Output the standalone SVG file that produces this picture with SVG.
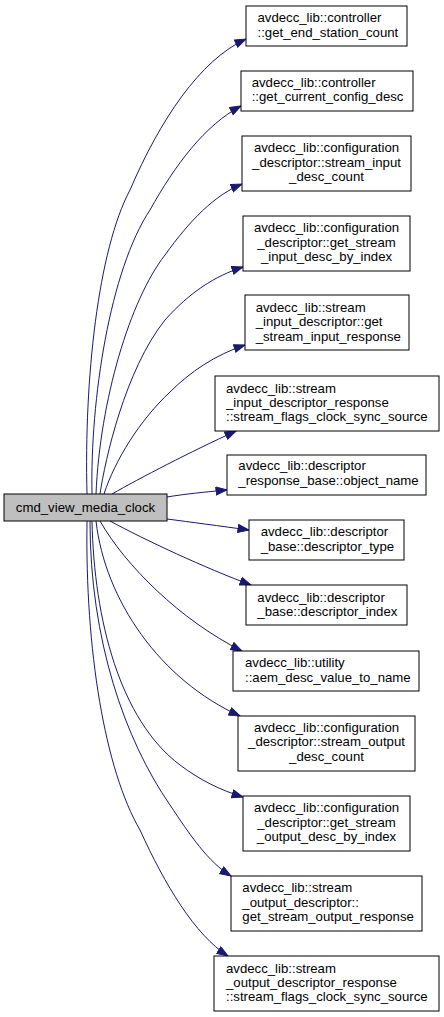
<svg xmlns="http://www.w3.org/2000/svg" width="444" height="1017" viewBox="0 0 444 1017">
<style>
.n rect{fill:#ffffff;stroke:#000000;stroke-width:1}
.n.main rect{fill:#bfbfbf}
text{font-family:"Liberation Sans",Arial,sans-serif;font-size:13.2px;fill:#000000}
.c{text-anchor:middle}
#edges path{fill:none;stroke:#191970;stroke-width:1;marker-end:url(#arr)}
</style>
<defs>
<marker id="arr" markerUnits="userSpaceOnUse" markerWidth="13" markerHeight="10" refX="11.5" refY="4.5" orient="auto" viewBox="0 0 13 10">
<path d="M0.5,0.5 L11.5,4.5 L0.5,8.5 z" fill="#191970" stroke="#191970" stroke-width="1"/>
</marker>
</defs>
<rect width="444" height="1017" fill="#ffffff"/>
<g id="edges">
<path d="M87,494 C84,380 98,250 130,190 C160,120 200,60 246,39"/>
<path d="M92,494 C90,400 110,270 150,210 C175,165 205,125 241,106"/>
<path d="M96,494 C100,400 130,300 165,255 C190,220 215,195 242,184"/>
<path d="M100,494 C105,460 125,370 165,320 C190,292 215,276 243,267"/>
<path d="M104,494 C115,460 140,420 170,392 C190,372 215,355 245,345"/>
<path d="M112,494 C140,478 190,452 236,431"/>
<path d="M167,497 C185,494 205,492 227,490"/>
<path d="M167,519 C190,522 220,526 249,530"/>
<path d="M110,521 C145,540 205,568 251,585"/>
<path d="M100,521 C125,565 180,620 242,651"/>
<path d="M96,521 C105,600 160,680 240,716"/>
<path d="M92,521 C94,620 120,720 180,765 C200,780 220,790 243,797"/>
<path d="M90,521 C90,640 125,740 170,805 C190,835 208,862 231,876"/>
<path d="M87,521 C85,650 105,770 140,830 C165,885 195,935 228,956"/>
</g>
<g id="node0" class="n main"><rect x="4" y="494" width="163" height="27"/><text class="c" x="85.5" y="512">cmd_view_media_clock</text></g>
<g id="node1" class="n"><rect x="246" y="6" width="161" height="40"/><text x="257.5" y="22">avdecc_lib::controller</text><text x="257.5" y="36.7">::get_end_station_count</text></g>
<g id="node2" class="n"><rect x="241" y="71" width="172" height="40"/><text x="251.7" y="86.5">avdecc_lib::controller</text><text x="251.7" y="101">::get_current_config_desc</text></g>
<g id="node3" class="n"><rect x="242" y="136" width="169" height="55"/><text class="c" x="326.5" y="151.7">avdecc_lib::configuration</text><text class="c" x="326.5" y="166.5">_descriptor::stream_input</text><text class="c" x="326.5" y="181">_desc_count</text></g>
<g id="node4" class="n"><rect x="243" y="216" width="167" height="55"/><text class="c" x="326.5" y="231.7">avdecc_lib::configuration</text><text class="c" x="326.5" y="246.5">_descriptor::get_stream</text><text class="c" x="326.5" y="261">_input_desc_by_index</text></g>
<g id="node5" class="n"><rect x="245" y="295" width="164" height="55"/><text x="255.7" y="311.5">avdecc_lib::stream</text><text x="255.7" y="326.2">_input_descriptor::get</text><text x="255.7" y="340.8">_stream_input_response</text></g>
<g id="node6" class="n"><rect x="215" y="376" width="224" height="55"/><text x="226" y="392.5">avdecc_lib::stream</text><text x="226" y="407">_input_descriptor_response</text><text x="226" y="421">::stream_flags_clock_sync_source</text></g>
<g id="node7" class="n"><rect x="227" y="455" width="199" height="40"/><text x="238.3" y="470">avdecc_lib::descriptor</text><text x="238.3" y="484.7">_response_base::object_name</text></g>
<g id="node8" class="n"><rect x="249" y="520" width="155" height="40"/><text x="260.7" y="536">avdecc_lib::descriptor</text><text x="260.7" y="550.7">_base::descriptor_type</text></g>
<g id="node9" class="n"><rect x="246" y="585" width="161" height="40"/><text x="257.3" y="601.5">avdecc_lib::descriptor</text><text x="257.3" y="616.3">_base::descriptor_index</text></g>
<g id="node10" class="n"><rect x="233" y="651" width="186" height="40"/><text x="245" y="666.7">avdecc_lib::utility</text><text x="245" y="681.5">::aem_desc_value_to_name</text></g>
<g id="node11" class="n"><rect x="238" y="716" width="177" height="55"/><text class="c" x="326.5" y="731.5">avdecc_lib::configuration</text><text class="c" x="326.5" y="746.3">_descriptor::stream_output</text><text class="c" x="326.5" y="760.8">_desc_count</text></g>
<g id="node12" class="n"><rect x="243" y="796" width="167" height="55"/><text class="c" x="326.5" y="811.7">avdecc_lib::configuration</text><text class="c" x="326.5" y="826.5">_descriptor::get_stream</text><text class="c" x="326.5" y="841">_output_desc_by_index</text></g>
<g id="node13" class="n"><rect x="231" y="876" width="191" height="55"/><text x="242.3" y="891.7">avdecc_lib::stream</text><text x="242.3" y="906.5">_output_descriptor::</text><text x="242.3" y="921">get_stream_output_response</text></g>
<g id="node14" class="n"><rect x="214" y="956" width="225" height="55"/><text x="226" y="972.5">avdecc_lib::stream</text><text x="226" y="987">_output_descriptor_response</text><text x="226" y="1001.3">::stream_flags_clock_sync_source</text></g>
</svg>
